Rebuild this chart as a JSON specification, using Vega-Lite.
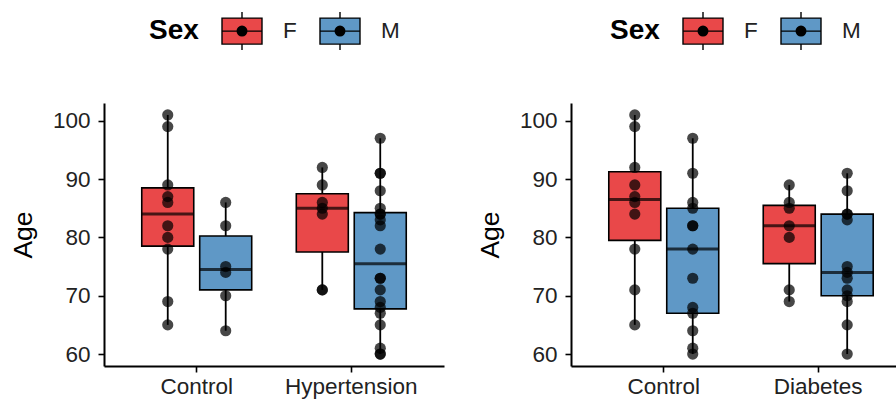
{
  "$schema": "https://vega.github.io/schema/vega-lite/v6.json",
  "padding": {"left": 10, "top": 10, "right": 0, "bottom": 2},
  "datasets": {
    "left": [
      {"Group": "Control", "Sex": "F", "Age": 101}, {"Group": "Control", "Sex": "F", "Age": 99}, {"Group": "Control", "Sex": "F", "Age": 89}, {"Group": "Control", "Sex": "F", "Age": 87}, {"Group": "Control", "Sex": "F", "Age": 86}, {"Group": "Control", "Sex": "F", "Age": 82}, {"Group": "Control", "Sex": "F", "Age": 80}, {"Group": "Control", "Sex": "F", "Age": 78}, {"Group": "Control", "Sex": "F", "Age": 69}, {"Group": "Control", "Sex": "F", "Age": 65},
      {"Group": "Control", "Sex": "M", "Age": 86}, {"Group": "Control", "Sex": "M", "Age": 82}, {"Group": "Control", "Sex": "M", "Age": 75}, {"Group": "Control", "Sex": "M", "Age": 74}, {"Group": "Control", "Sex": "M", "Age": 70}, {"Group": "Control", "Sex": "M", "Age": 64},
      {"Group": "Hypertension", "Sex": "F", "Age": 92}, {"Group": "Hypertension", "Sex": "F", "Age": 89}, {"Group": "Hypertension", "Sex": "F", "Age": 86}, {"Group": "Hypertension", "Sex": "F", "Age": 85}, {"Group": "Hypertension", "Sex": "F", "Age": 84}, {"Group": "Hypertension", "Sex": "F", "Age": 71}, {"Group": "Hypertension", "Sex": "F", "Age": 71},
      {"Group": "Hypertension", "Sex": "M", "Age": 97}, {"Group": "Hypertension", "Sex": "M", "Age": 91}, {"Group": "Hypertension", "Sex": "M", "Age": 91}, {"Group": "Hypertension", "Sex": "M", "Age": 88}, {"Group": "Hypertension", "Sex": "M", "Age": 85}, {"Group": "Hypertension", "Sex": "M", "Age": 84}, {"Group": "Hypertension", "Sex": "M", "Age": 84}, {"Group": "Hypertension", "Sex": "M", "Age": 83}, {"Group": "Hypertension", "Sex": "M", "Age": 82}, {"Group": "Hypertension", "Sex": "M", "Age": 78}, {"Group": "Hypertension", "Sex": "M", "Age": 73}, {"Group": "Hypertension", "Sex": "M", "Age": 73}, {"Group": "Hypertension", "Sex": "M", "Age": 71}, {"Group": "Hypertension", "Sex": "M", "Age": 69}, {"Group": "Hypertension", "Sex": "M", "Age": 68}, {"Group": "Hypertension", "Sex": "M", "Age": 67}, {"Group": "Hypertension", "Sex": "M", "Age": 65}, {"Group": "Hypertension", "Sex": "M", "Age": 61}, {"Group": "Hypertension", "Sex": "M", "Age": 60}, {"Group": "Hypertension", "Sex": "M", "Age": 60}
    ],
    "right": [
      {"Group": "Control", "Sex": "F", "Age": 101}, {"Group": "Control", "Sex": "F", "Age": 99}, {"Group": "Control", "Sex": "F", "Age": 92}, {"Group": "Control", "Sex": "F", "Age": 89}, {"Group": "Control", "Sex": "F", "Age": 87}, {"Group": "Control", "Sex": "F", "Age": 86}, {"Group": "Control", "Sex": "F", "Age": 84}, {"Group": "Control", "Sex": "F", "Age": 78}, {"Group": "Control", "Sex": "F", "Age": 71}, {"Group": "Control", "Sex": "F", "Age": 65},
      {"Group": "Control", "Sex": "M", "Age": 97}, {"Group": "Control", "Sex": "M", "Age": 91}, {"Group": "Control", "Sex": "M", "Age": 86}, {"Group": "Control", "Sex": "M", "Age": 85}, {"Group": "Control", "Sex": "M", "Age": 82}, {"Group": "Control", "Sex": "M", "Age": 82}, {"Group": "Control", "Sex": "M", "Age": 78}, {"Group": "Control", "Sex": "M", "Age": 73}, {"Group": "Control", "Sex": "M", "Age": 68}, {"Group": "Control", "Sex": "M", "Age": 67}, {"Group": "Control", "Sex": "M", "Age": 64}, {"Group": "Control", "Sex": "M", "Age": 61}, {"Group": "Control", "Sex": "M", "Age": 60},
      {"Group": "Diabetes", "Sex": "F", "Age": 89}, {"Group": "Diabetes", "Sex": "F", "Age": 86}, {"Group": "Diabetes", "Sex": "F", "Age": 85}, {"Group": "Diabetes", "Sex": "F", "Age": 82}, {"Group": "Diabetes", "Sex": "F", "Age": 80}, {"Group": "Diabetes", "Sex": "F", "Age": 71}, {"Group": "Diabetes", "Sex": "F", "Age": 69},
      {"Group": "Diabetes", "Sex": "M", "Age": 91}, {"Group": "Diabetes", "Sex": "M", "Age": 88}, {"Group": "Diabetes", "Sex": "M", "Age": 84}, {"Group": "Diabetes", "Sex": "M", "Age": 84}, {"Group": "Diabetes", "Sex": "M", "Age": 83}, {"Group": "Diabetes", "Sex": "M", "Age": 75}, {"Group": "Diabetes", "Sex": "M", "Age": 74}, {"Group": "Diabetes", "Sex": "M", "Age": 73}, {"Group": "Diabetes", "Sex": "M", "Age": 71}, {"Group": "Diabetes", "Sex": "M", "Age": 70}, {"Group": "Diabetes", "Sex": "M", "Age": 69}, {"Group": "Diabetes", "Sex": "M", "Age": 65}, {"Group": "Diabetes", "Sex": "M", "Age": 60}
    ]
  },
  "spacing": 33,
  "resolve": {"legend": {"color": "independent"}, "scale": {"color": "independent"}},
  "hconcat": [
    {
      "width": 340,
      "height": 263,
      "data": {"name": "left"},
      "encoding": {
        "x": {"field": "Group", "type": "nominal", "title": null, "sort": ["Control", "Hypertension"],
              "scale": {"paddingInner": 0.25, "paddingOuter": 0.225}},
        "xOffset": {"field": "Sex", "type": "nominal", "sort": ["F", "M"], "scale": {"paddingInner": 0.1, "paddingOuter": 0.05}},
        "y": {"field": "Age", "type": "quantitative", "title": "Age",
              "scale": {"domain": [57.95, 103.05], "nice": false, "zero": false},
              "axis": {"values": [60, 70, 80, 90, 100]}}
      },
      "layer": [
        {
          "mark": {"type": "boxplot", "extent": "min-max", "size": 52,
                   "box": {"stroke": "black", "strokeWidth": 1.6},
                   "median": {"color": "black", "thickness": 3},
                   "rule": {"color": "black", "strokeWidth": 1.8},
                   "ticks": false},
          "encoding": {
            "color": {"field": "Sex", "type": "nominal",
                      "scale": {"domain": ["F", "M"], "range": ["#E94849", "#5F98C6"]},
                      "legend": {"orient": "top", "direction": "horizontal", "title": "Sex", "offset": 50}}
          }
        },
        {
          "mark": {"type": "circle", "size": 125, "color": "black", "opacity": 0.72},
          "encoding": {}
        }
      ]
    },
    {
      "width": 329,
      "height": 263,
      "data": {"name": "right"},
      "encoding": {
        "x": {"field": "Group", "type": "nominal", "title": null, "sort": ["Control", "Diabetes"],
              "scale": {"paddingInner": 0.25, "paddingOuter": 0.19, "align": 0.593}},
        "xOffset": {"field": "Sex", "type": "nominal", "sort": ["F", "M"], "scale": {"paddingInner": 0.1, "paddingOuter": 0.05}},
        "y": {"field": "Age", "type": "quantitative", "title": "Age",
              "scale": {"domain": [57.95, 103.05], "nice": false, "zero": false},
              "axis": {"values": [60, 70, 80, 90, 100]}}
      },
      "layer": [
        {
          "mark": {"type": "boxplot", "extent": "min-max", "size": 52,
                   "box": {"stroke": "black", "strokeWidth": 1.6},
                   "median": {"color": "black", "thickness": 3},
                   "rule": {"color": "black", "strokeWidth": 1.8},
                   "ticks": false},
          "encoding": {
            "color": {"field": "Sex", "type": "nominal",
                      "scale": {"domain": ["F", "M"], "range": ["#E94849", "#5F98C6"]},
                      "legend": {"orient": "top", "direction": "horizontal", "title": "Sex", "offset": 50}}
          }
        },
        {
          "mark": {"type": "circle", "size": 125, "color": "black", "opacity": 0.72},
          "encoding": {}
        }
      ]
    }
  ],
  "config": {
    "font": "Liberation Sans",
    "view": {"stroke": null},
    "axis": {
      "grid": false,
      "domainColor": "black", "domainWidth": 2,
      "tickColor": "black", "tickWidth": 1.6, "tickSize": 6,
      "labelFont": "Liberation Sans", "labelFontSize": 22.5, "labelColor": "#222222", "labelPadding": 8,
      "titleFont": "Liberation Sans", "titleFontSize": 26.5, "titleFontWeight": "normal", "titleColor": "black", "titlePadding": 15
    },
    "axisX": {"labelAngle": 0, "labelPadding": 3},
    "legend": {
      "titleOrient": "left",
      "titleFont": "Liberation Sans", "titleFontSize": 28, "titleFontWeight": "bold", "titleColor": "black", "titlePadding": 22,
      "labelFont": "Liberation Sans", "labelFontSize": 22.5, "labelColor": "#222222", "labelOffset": 20,
      "columnPadding": 20,
      "symbolType": "M-1,-0.65H1V0.65H-1Z M-1,0H1 M0,-0.65V-0.95 M0,0.65V0.95 M0.24,0A0.24,0.24 0 1,1 -0.24,0A0.24,0.24 0 1,1 0.24,0Z M0.17,0A0.17,0.17 0 1,1 -0.17,0A0.17,0.17 0 1,1 0.17,0Z M0.1,0A0.1,0.1 0 1,1 -0.1,0A0.1,0.1 0 1,1 0.1,0Z M0.04,0A0.04,0.04 0 1,1 -0.04,0A0.04,0.04 0 1,1 0.04,0Z",
      "symbolSize": 1600,
      "symbolStrokeColor": "black", "symbolStrokeWidth": 1.4, "symbolOpacity": 1,
      "layout": {"top": {"anchor": "middle"}}
    }
  }
}
